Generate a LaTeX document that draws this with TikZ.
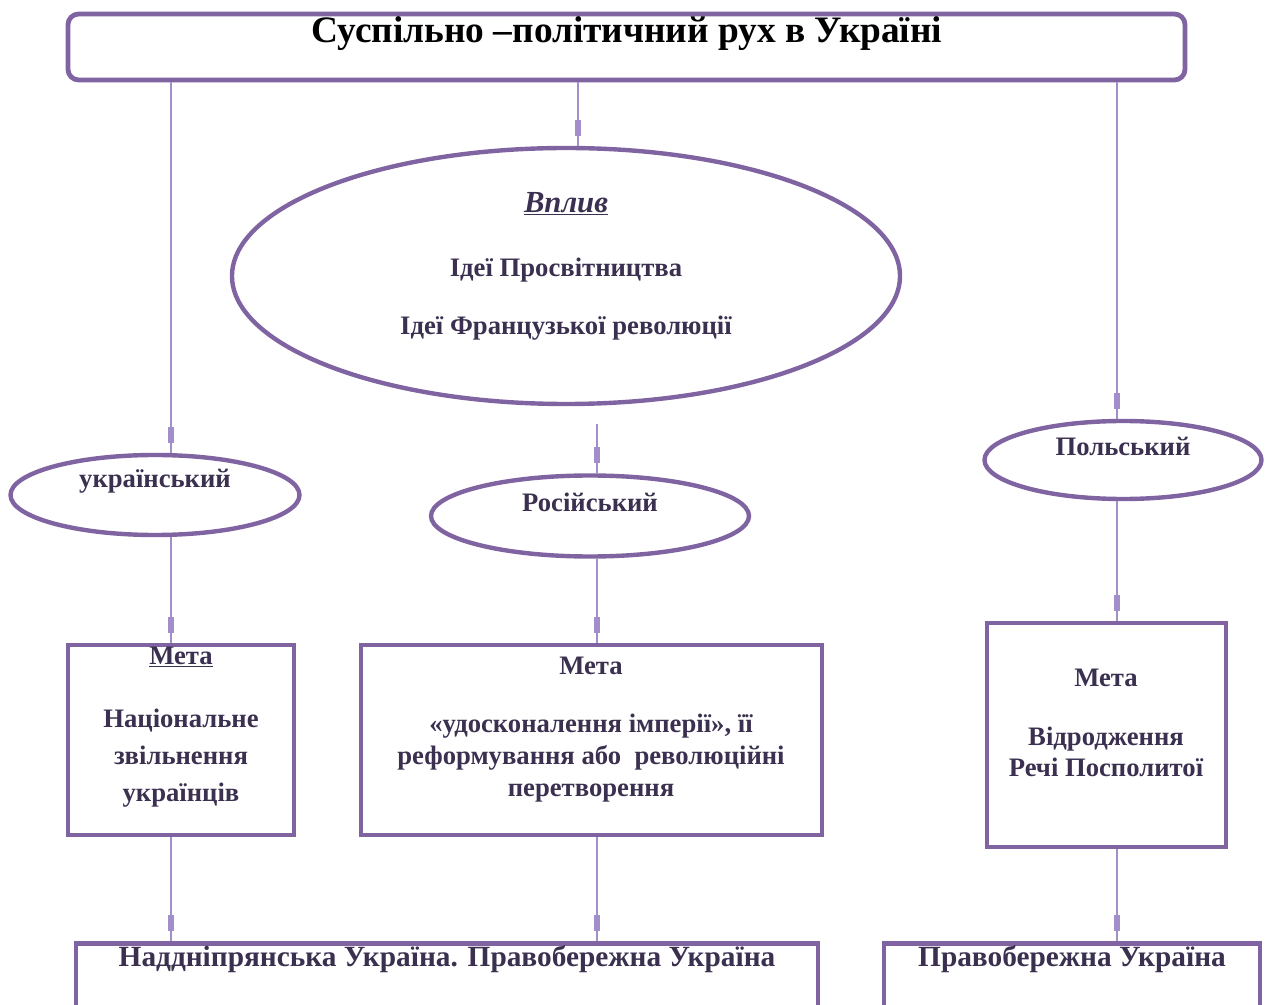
\documentclass[tikz,border=0pt]{standalone}
\usepackage{fontspec}
\setmainfont{Liberation Serif}
\usetikzlibrary{shapes.geometric,decorations.markings,calc}
\definecolor{bord}{HTML}{8064A2}
\definecolor{lin}{HTML}{A28FC9}
\definecolor{txt}{HTML}{3B3050}
\begin{document}
\begin{tikzpicture}[x=0.75pt,y=-0.75pt,
  frame/.style={draw=bord, line width=3.6pt, rectangle, inner sep=0pt},
  oval/.style={draw=bord, line width=3.3pt, ellipse, inner sep=0pt},
  lbl/.style={text=txt, font=\bfseries\fontsize{20}{24}\selectfont, inner sep=0pt, align=center},
  conn/.style={draw=lin, line width=1.6pt, postaction={decorate},
    decoration={markings, mark=at position -7.5pt with {\fill[lin] (-12pt,-2.2pt) rectangle (0pt,2.2pt);}}}]
\useasboundingbox (0,0) rectangle (1268,1005);
\clip (0,0) rectangle (1268,1005);
% title
\node[frame, rounded corners=8pt, minimum width=837.75pt, minimum height=49.5pt] (title) at (626.5,47) {};
\node[font=\bfseries\fontsize{28}{32}\selectfont, inner sep=0pt] (titletext) at (627,34) {Суспільно –політичний рух в Україні};
% influence ellipse
\node[oval, minimum width=501pt, minimum height=192pt] (vplyv) at (566,276) {};
\node[lbl, font=\bfseries\fontsize{23}{26}\selectfont] (vplyvh) at (566,204) {\itshape\underline{Вплив}};
\node[lbl] (idea1) at (566,270) {Ідеї Просвітництва};
\node[lbl] (idea2) at (566,328) {Ідеї Французької революції};
% three movements
\node[oval, minimum width=216.75pt, minimum height=60pt] (uk) at (155,495) {};
\node[lbl] (ukt) at (155,481) {український};
\node[oval, minimum width=238.5pt, minimum height=60.75pt] (ru) at (590,516) {};
\node[lbl] (rut) at (590,502) {Російський};
\node[oval, minimum width=207.75pt, minimum height=58.5pt] (pl) at (1123,460) {};
\node[lbl] (plt) at (1123,446) {Польський};
% goal boxes
\node[frame, minimum width=169.5pt, minimum height=142.5pt] (g1) at (181,740) {};
\node[lbl] (g1h) at (181,657) {\underline{Мета}};
\node[lbl] (g1t) at (181,758) {Національне\\[4pt]звільнення\\[4pt]українців};
\node[frame, minimum width=345.75pt, minimum height=142.5pt] (g2) at (591.5,740) {};
\node[lbl] (g2h) at (591,666) {Мета};
\node[lbl] (g2t) at (591,758) {«удосконалення імперії», її\\реформування або\ \ революційні\\перетворення};
\node[frame, minimum width=179.25pt, minimum height=168pt] (g3) at (1106.5,735) {};
\node[lbl] (g3h) at (1106,678) {Мета};
\node[lbl] (g3t) at (1106,752) {Відродження\\[-1pt]Речі Посполитої};
% region boxes
\node[frame, anchor=north, minimum width=556.5pt, minimum height=120pt] (r1) at (447,941) {};
\node[lbl, font=\bfseries\fontsize{22}{26}\selectfont] (r1t) at (447,959) {Наддніпрянська Україна. Правобережна Україна};
\node[frame, anchor=north, minimum width=282pt, minimum height=120pt] (r2) at (1072,941) {};
\node[lbl, font=\bfseries\fontsize{22}{26}\selectfont] (r2t) at (1072,959) {Правобережна Україна};
% column coordinates
\coordinate (c1) at (171,0);
\coordinate (c2) at (578,0);
\coordinate (c3) at (597,0);
\coordinate (c4) at (1117,0);
\coordinate (s4) at (597,424);
% connectors
\draw[conn] (title.south -| c1) -- (uk.north -| c1);
\draw[conn] (title.south -| c2) -- (vplyv.north -| c2);
\draw[conn] (title.south -| c4) -- (pl.north -| c4);
\draw[conn] (s4) -- (ru.north -| c3);
\draw[conn] (uk.south -| c1) -- (g1.north -| c1);
\draw[conn] (ru.south -| c3) -- (g2.north -| c3);
\draw[conn] (pl.south -| c4) -- (g3.north -| c4);
\draw[conn] (g1.south -| c1) -- (r1.north -| c1);
\draw[conn] (g2.south -| c3) -- (r1.north -| c3);
\draw[conn] (g3.south -| c4) -- (r2.north -| c4);
\end{tikzpicture}
\end{document}
